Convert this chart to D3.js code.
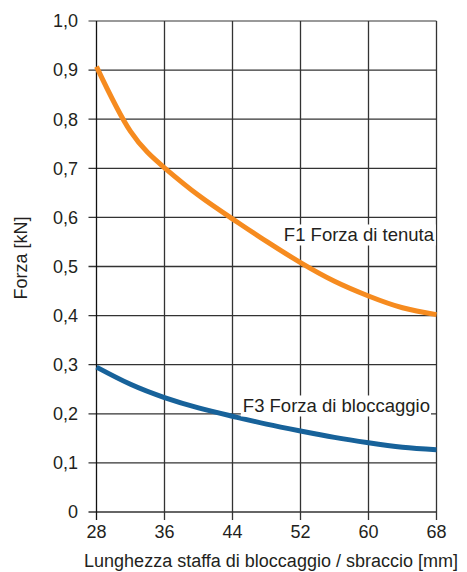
<!DOCTYPE html>
<html><head><meta charset="utf-8">
<script src="https://cdn.jsdelivr.net/npm/d3@7"></script>
<style>body{margin:0;background:#fff}svg{display:block}text{font-family:"Liberation Sans",Arial,sans-serif;fill:#231f20}</style>
</head><body><svg id="c" width="467" height="572"></svg>
<script>
const xTicks=[28,36,44,52,60,68];
const yTicks=[0,0.1,0.2,0.3,0.4,0.5,0.6,0.7,0.8,0.9,1.0];
const f1X=[28,32,36,40,44,48,52,56,60,64,68];
const f1Y=[0.907,0.775,0.701,0.645,0.597,0.551,0.508,0.47,0.44,0.416,0.402];
const f3X=[28,32,36,40,44,48,52,56,60,64,68];
const f3Y=[0.295,0.26,0.233,0.212,0.195,0.179,0.165,0.152,0.141,0.132,0.127];
const seriesLabels=["F1 Forza di tenuta","F3 Forza di bloccaggio"];
const xTitle="Lunghezza staffa di bloccaggio / sbraccio [mm]";
const yTitle="Forza [kN]";

const svg=d3.select("#c");
const m={l:96.5,r:436.5,t:21,b:512};
const x=d3.scaleLinear().domain([28,68]).range([m.l,m.r]);
const y=d3.scaleLinear().domain([0,1]).range([m.b,m.t]);
const fmt=d=>d===0?"0":d3.format(".1f")(d).replace(".",",");

svg.append("g").selectAll("line").data(yTicks).join("line")
 .attr("x1",m.l-8).attr("x2",m.r).attr("y1",d=>y(d)).attr("y2",d=>y(d))
 .attr("stroke",d=>d===1?"#777":"#333").attr("stroke-width",1.3);
svg.append("g").selectAll("line").data(xTicks).join("line")
 .attr("x1",d=>x(d)).attr("x2",d=>x(d)).attr("y1",m.t).attr("y2",m.b+8)
 .attr("stroke",d=>d===28?"#111":"#333").attr("stroke-width",1.3);

svg.append("g").selectAll("text").data(yTicks).join("text")
 .attr("x",78).attr("y",d=>y(d)).attr("dy","0.35em").attr("text-anchor","end")
 .attr("font-size",18).text(fmt);
svg.append("g").selectAll("text").data(xTicks).join("text")
 .attr("x",d=>x(d)).attr("y",538).attr("text-anchor","middle")
 .attr("font-size",18).text(d=>d);

svg.append("text").attr("x",271).attr("y",567).attr("text-anchor","middle").attr("font-size",18).text(xTitle);
svg.append("text").attr("transform","translate(27,258) rotate(-90)").attr("text-anchor","middle").attr("font-size",18).text(yTitle);

const line=d3.line().curve(d3.curveNatural);
const p1=f1X.map((v,i)=>[x(v),y(f1Y[i])]);
const p3=f3X.map((v,i)=>[x(v),y(f3Y[i])]);

function label(txt,xr,yc,fs){
  const g=svg.append("g");
  const t=g.append("text").attr("x",xr).attr("y",yc).attr("dy","0.35em").attr("text-anchor","end").attr("font-size",fs).text(txt);
  const b=t.node().getBBox();
  g.insert("rect","text").attr("x",b.x-2).attr("y",b.y).attr("width",b.width+3).attr("height",b.height).attr("fill","#fff");
}
svg.append("path").attr("d",line(p1)).attr("fill","none").attr("stroke","#f68b1f").attr("stroke-width",5);
svg.append("path").attr("d",line(p3)).attr("fill","none").attr("stroke","#17629a").attr("stroke-width",5);
label(seriesLabels[0],434,235,18.5);
label(seriesLabels[1],430,406,18.5);
</script></body></html>
